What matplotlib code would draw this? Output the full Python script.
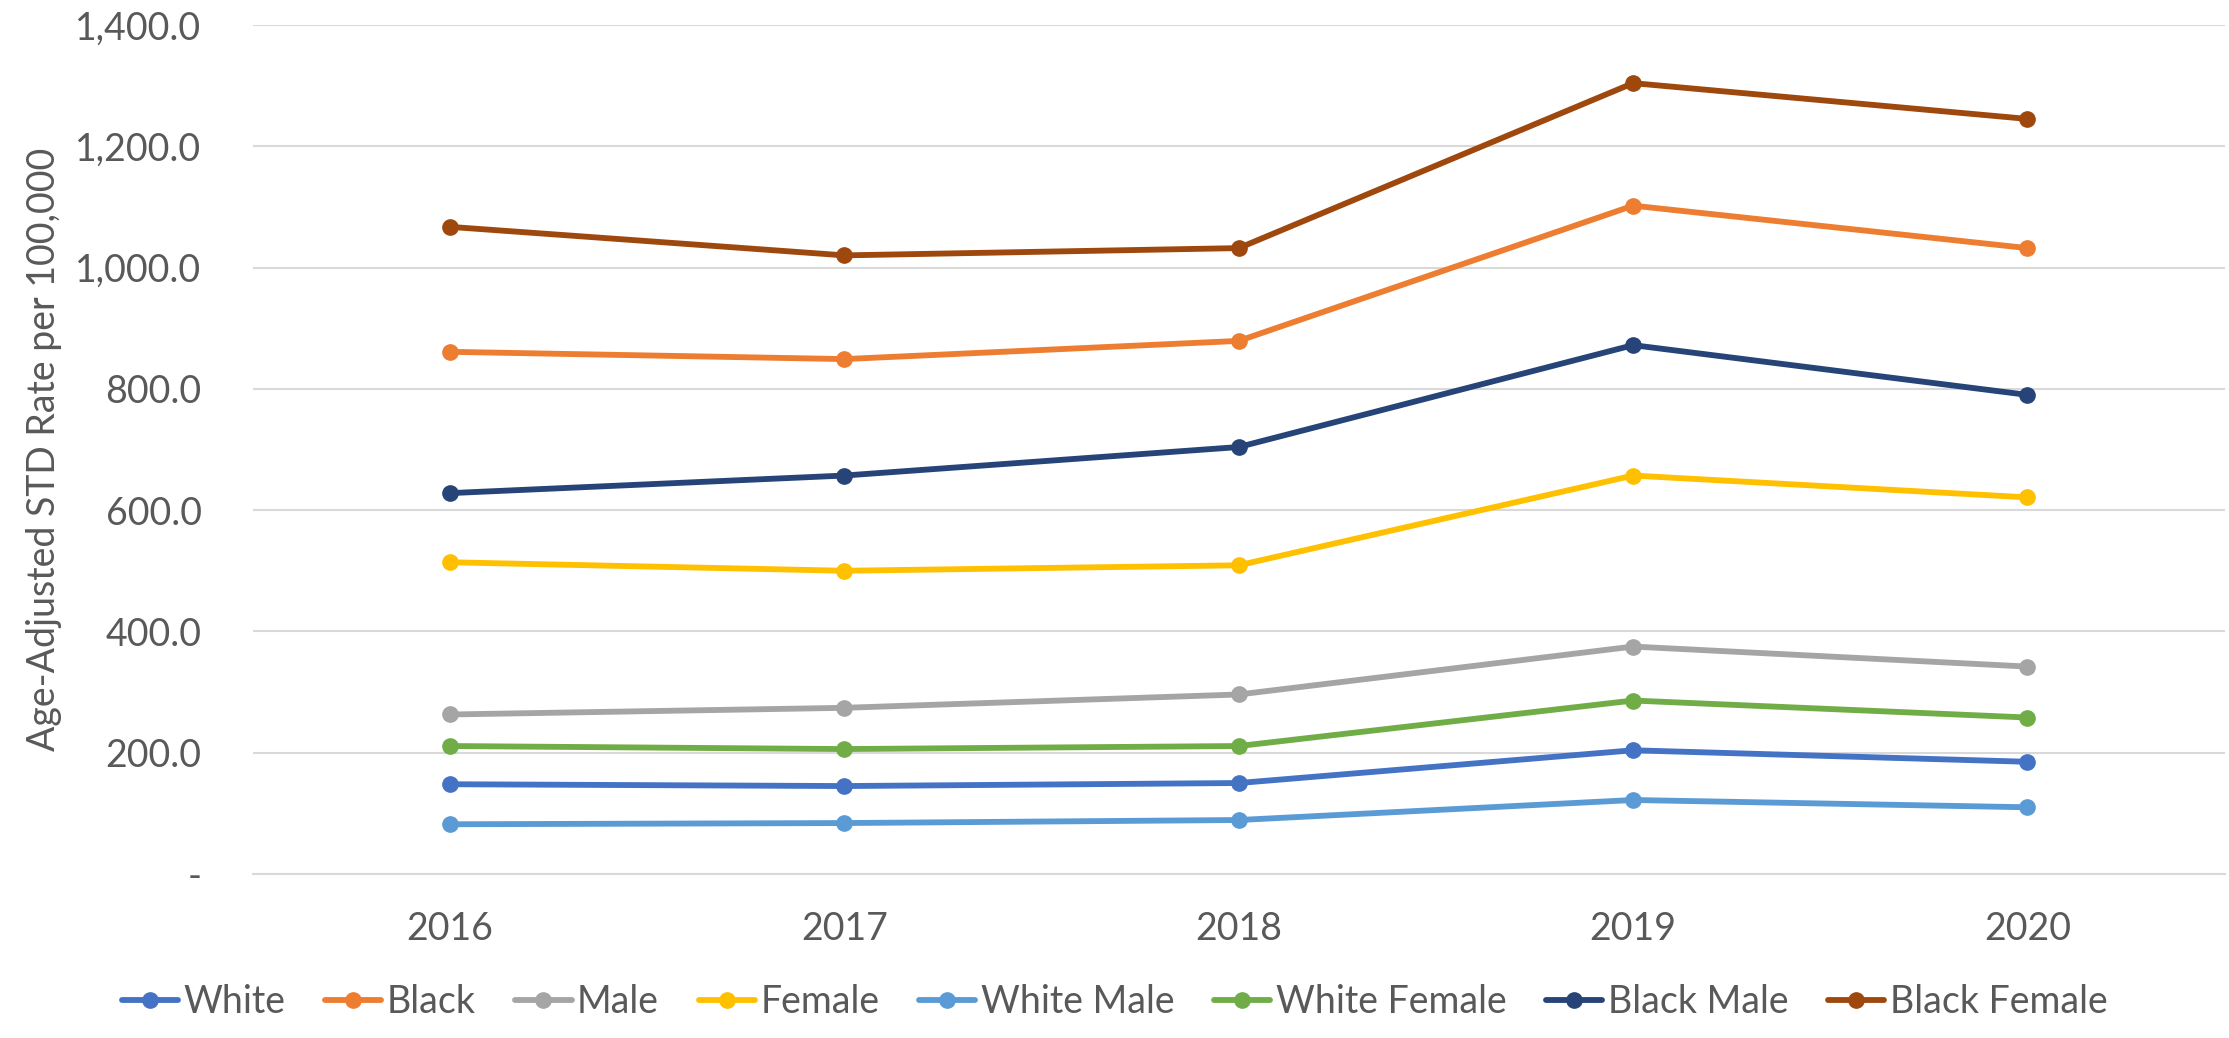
import matplotlib.pyplot as plt
from matplotlib.ticker import FuncFormatter

# Age-adjusted STD rates per 100,000
years = ['2016', '2017', '2018', '2019', '2020']
white = [148, 145, 150, 204, 185]
black = [861, 849, 879, 1102, 1032]
male = [263, 274, 296, 375, 342]
female = [514, 500, 509, 657, 621]
white_male = [82, 84, 89, 122, 110]
white_female = [211, 206, 211, 286, 258]
black_male = [628, 657, 704, 872, 790]
black_female = [1067, 1020, 1032, 1304, 1245]

series = [
    ('White', white, '#4472C4'),
    ('Black', black, '#ED7D31'),
    ('Male', male, '#A5A5A5'),
    ('Female', female, '#FFC000'),
    ('White Male', white_male, '#5B9BD5'),
    ('White Female', white_female, '#70AD47'),
    ('Black Male', black_male, '#264478'),
    ('Black Female', black_female, '#9E480E'),
]

plt.rcParams['font.family'] = ['Lato', 'DejaVu Sans']
text_color = '#595959'
fs = 27

fig = plt.figure(figsize=(22.29, 10.38), dpi=100)
ax = fig.add_axes([0.1135, 0.158, 0.8845, 0.818])

x = list(range(len(years)))
for name, vals, color in series:
    ax.plot(x, vals, color=color, linewidth=4.2, marker='o', markersize=11,
            label=name, solid_capstyle='round')

ax.set_xlim(-0.5, len(years) - 0.5)
ax.set_ylim(0, 1400)
ax.set_yticks(range(0, 1401, 200))
ax.yaxis.set_major_formatter(FuncFormatter(lambda v, p: '-' if v == 0 else f'{v:,.1f}'))
ax.set_xticks(x)
ax.set_xticklabels(years)

ax.grid(axis='y', color='#D9D9D9', linewidth=1.5)
ax.set_axisbelow(True)
for s in ['top', 'right', 'left']:
    ax.spines[s].set_visible(False)
ax.spines['bottom'].set_color('#D9D9D9')
ax.spines['bottom'].set_linewidth(1.5)

ax.tick_params(axis='both', length=0, labelsize=fs, colors=text_color)
ax.tick_params(axis='x', pad=27)
ax.tick_params(axis='y', pad=37)
ax.set_ylabel('Age-Adjusted STD Rate per 100,000', fontsize=fs, color=text_color, labelpad=10)

fig.legend(loc='center', bbox_to_anchor=(0.5, 0.035), ncol=8, frameon=False,
           fontsize=fs, labelcolor=text_color, handlelength=1.5, handletextpad=0.15,
           columnspacing=1.05, borderaxespad=0)

fig.savefig('out.png', dpi=100)
